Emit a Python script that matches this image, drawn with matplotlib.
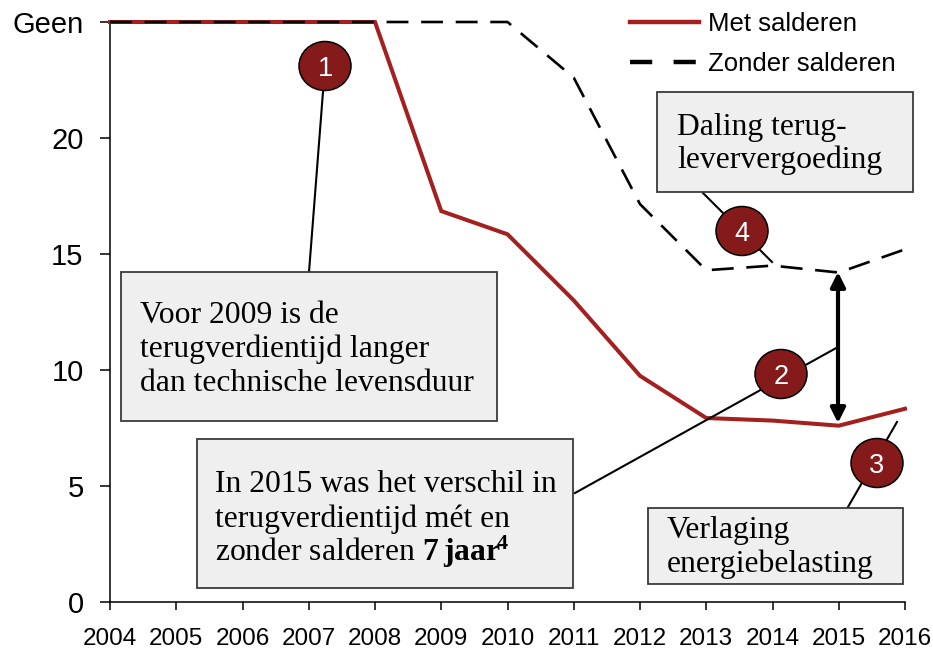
import matplotlib
matplotlib.use("Agg")
import matplotlib.pyplot as plt
from matplotlib.lines import Line2D
from matplotlib.patches import Ellipse, Rectangle

plt.rcParams["font.family"] = ["Liberation Sans", "DejaVu Sans"]
plt.rcParams["mathtext.fontset"] = "custom"
plt.rcParams["mathtext.rm"] = "Liberation Serif"
plt.rcParams["mathtext.bf"] = "Liberation Serif:bold"

years = list(range(2004, 2017))
met_salderen = [25, 25, 25, 25, 25, 16.85, 15.85, 13.0, 9.75, 7.93, 7.82, 7.6, 8.33]
zonder_salderen = [25, 25, 25, 25, 25, 25, 25, 22.6, 17.15, 14.3, 14.5, 14.2, 15.2]
y_ticks = [0, 5, 10, 15, 20, 25]
y_tick_labels = ["0", "5", "10", "15", "20", "Geen"]

RED = "#a3201f"
DARK = "#841a1a"
BOX = "#efefef"
SERIF = "Liberation Serif"

W, H = 933, 652
AX_L, AX_R, AX_T, AX_B = 110, 905, 22, 602

fig = plt.figure(figsize=(W / 100, H / 100), dpi=100)
ax = fig.add_axes([AX_L / W, 1 - AX_B / H, (AX_R - AX_L) / W, (AX_B - AX_T) / H])


def px(x, y):
    # pixel position in the picture -> data coordinates
    return (2004 + (x - AX_L) / (AX_R - AX_L) * 12, (AX_B - y) / (AX_B - AX_T) * 25)


ax.plot(years, met_salderen, color=RED, lw=2.9, clip_on=False, zorder=3,
        solid_joinstyle="miter")
ax.plot(years, zonder_salderen, color="black", lw=1.9, dashes=(8.3, 4.8),
        clip_on=False, zorder=4)

ax.set_xlim(2004, 2016)
ax.set_ylim(0, 25)
ax.set_xticks(years)
ax.set_xticklabels([str(y) for y in years], fontsize=17.5)
ax.set_yticks(y_ticks)
ax.set_yticklabels(y_tick_labels, fontsize=21)
ax.tick_params(axis="x", direction="out", length=6, width=1.1, pad=13)
ax.tick_params(axis="y", direction="out", length=7, width=1.1, pad=12)
for s in ("top", "right"):
    ax.spines[s].set_visible(False)
for s in ("left", "bottom"):
    ax.spines[s].set_linewidth(1.1)


def leader(p0, p1):
    a, b = px(*p0), px(*p1)
    ax.plot([a[0], b[0]], [a[1], b[1]], color="black", lw=1.5, zorder=5, clip_on=False)


def badge(center, label):
    cx, cy = px(*center)
    w = 52 / (AX_R - AX_L) * 12
    h = 49 / (AX_B - AX_T) * 25
    ax.add_patch(Ellipse((cx, cy), w, h, facecolor=DARK, edgecolor="black", lw=1.1,
                         zorder=7, clip_on=False))
    ax.text(cx, cy, label, color="white", fontsize=19.5, ha="center", va="center_baseline",
            zorder=8)


def box(x0, y0, x1, y1, lines, tx, ty, step=34):
    a, b = px(x0, y1), px(x1, y0)
    ax.add_patch(Rectangle(a, b[0] - a[0], b[1] - a[1], facecolor=BOX, edgecolor="#3a3a3a",
                           lw=1.3, zorder=6, clip_on=False))
    for i, line in enumerate(lines):
        x, y = px(tx, ty + i * step)
        ax.text(x, y, line, family=SERIF, fontsize=22.8, ha="left", va="baseline", zorder=7)


# leader lines
leader((325, 66), (309, 272))
leader((575, 493), (838, 347))
leader((848, 507), (897, 422))
leader((703, 193), (772, 262))

# boxes with text
box(121, 272, 497, 421, ["Voor 2009 is de", "terugverdientijd langer", "dan technische levensduur"],
    140, 323)
box(197, 439, 573, 588, ["In 2015 was het verschil in", "terugverdientijd mét en",
                         r"zonder salderen $\mathbf{7\,jaar^{\!4}}$"], 215, 492, step=34.5)
box(648, 508, 903, 584, ["Verlaging", "energiebelasting"], 667, 538)
box(657, 92, 913, 192, ["Daling terug-", "leververgoeding"], 677, 135, step=33)

# badges
badge((325, 66), "1")
badge((781, 374), "2")
badge((877, 463), "3")
badge((742, 231), "4")

# difference arrow in 2015
top = px(838, 272)
bot = px(838, 423)
ax.annotate("", xy=top, xytext=bot,
            arrowprops=dict(arrowstyle="<|-|>", lw=3, color="black", mutation_scale=22,
                            shrinkA=0, shrinkB=0), zorder=6)

handles = [Line2D([], [], color=RED, lw=3.2),
           Line2D([], [], color="black", lw=3.2, dashes=(5, 4.8))]
fig.legend(handles, ["Met salderen", "Zonder salderen"], loc="upper left",
           bbox_to_anchor=(630 / W, 1 - 12 / H), frameon=False, fontsize=18.5,
           handlelength=2.7, handletextpad=0.35, labelspacing=0.62,
           borderpad=0, borderaxespad=0)

fig.savefig("out.png", dpi=100)
